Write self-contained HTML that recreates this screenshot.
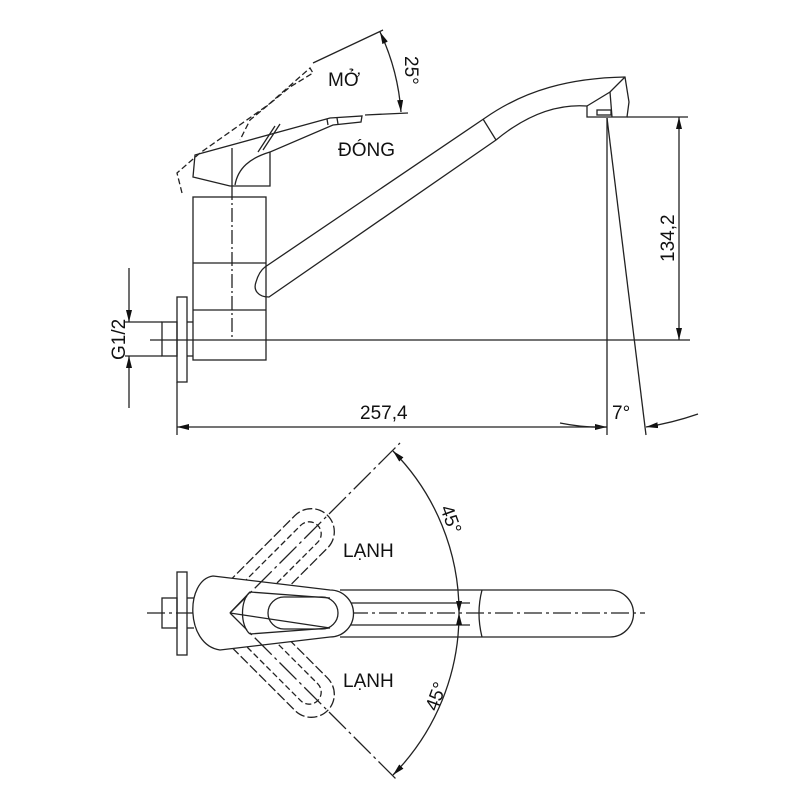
<!DOCTYPE html>
<html><head><style>html,body{margin:0;padding:0;background:#fff}svg{display:block}text{font-family:"Liberation Sans",sans-serif;fill:#111}</style></head>
<body>
<svg width="800" height="800" viewBox="0 0 800 800" xmlns="http://www.w3.org/2000/svg" fill="none" stroke="#222" stroke-width="1.3">
<defs>
<marker id="a" markerWidth="12" markerHeight="6" refX="12" refY="3" orient="auto-start-reverse" markerUnits="userSpaceOnUse"><path d="M0,0 L12,3 L0,6 Z" fill="#111" stroke="none"/></marker>
</defs>
<!-- SIDE VIEW -->
<line x1="150" y1="340" x2="690" y2="340"/>
<rect x="193" y="197" width="73" height="163"/>
<line x1="193" y1="263" x2="266" y2="263"/>
<line x1="193" y1="310" x2="266" y2="310"/>
<line x1="232" y1="186" x2="232" y2="340" stroke-dasharray="14,3,2,3"/>
<rect x="177" y="297" width="10" height="85"/>
<rect x="162" y="322" width="15" height="34"/>
<line x1="187" y1="322" x2="193" y2="322"/><line x1="187" y1="356" x2="193" y2="356"/>
<!-- G1/2 -->
<line x1="125" y1="322" x2="162" y2="322"/><line x1="125" y1="356" x2="162" y2="356"/>
<line x1="129" y1="268" x2="129" y2="322" marker-end="url(#a)"/>
<line x1="129" y1="408" x2="129" y2="356" marker-end="url(#a)"/>
<text x="0" y="0" font-size="19" stroke="none" transform="translate(125,360) rotate(-90)">G1/2</text>
<!-- 257,4 -->
<line x1="177" y1="382" x2="177" y2="435"/>
<line x1="177" y1="427" x2="607" y2="427" marker-start="url(#a)" marker-end="url(#a)"/>
<text x="360" y="419" font-size="19" stroke="none">257,4</text>
<line x1="607" y1="118" x2="607" y2="435"/>
<line x1="607" y1="118" x2="646" y2="435"/>
<path d="M560,423 Q585,428 607,427" />
<path d="M698,414 Q672,423 646,427" marker-end="url(#a)"/>
<text x="612" y="419" font-size="19" stroke="none">7°</text>
<!-- 134,2 -->
<line x1="627" y1="117" x2="688" y2="117"/>
<line x1="679" y1="117" x2="679" y2="340" marker-start="url(#a)" marker-end="url(#a)"/>
<text x="0" y="0" font-size="19" stroke="none" transform="translate(674,262) rotate(-90)">134,2</text>
<!-- spout -->
<path d="M265,267 L485,118 C525,90 570,78 625,77 L629,102 L627,117 L587,117 L587,106 C560,104 530,112 496,140 L269,297 C258,297 253,290 256,282 C258,275 261,270 265,267 Z"/>
<line x1="483" y1="119" x2="496" y2="140"/>
<path d="M587,106 L610,92 L625,77"/>
<line x1="610" y1="92" x2="612" y2="117"/>
<rect x="597" y="110" width="14" height="5"/>
<!-- handle closed -->
<path d="M195,155 L330,118 L362,116 L361,122 L333,125 L270,152 L270,186 L230,186 L193,177 Z"/>
<line x1="232" y1="148" x2="232" y2="186"/>
<path d="M235,185 C238,168 250,158 270,152"/>
<path d="M258,152 L275,126 M263,150 L280,124"/>
<path d="M327,119 L328,125 M337,118 L338,124"/>
<!-- handle open dashed -->
<path d="M182,193 L177,173 L200,153 L268,105 L310,68 L313,73 L290,87 L250,120 L240,140" stroke-dasharray="6,3"/>
<!-- 25° -->
<line x1="313" y1="63" x2="383" y2="30"/>
<line x1="365" y1="115" x2="408" y2="113"/>
<path d="M380,32 Q398,70 401,112" marker-start="url(#a)" marker-end="url(#a)"/>
<text x="0" y="0" font-size="19" stroke="none" transform="translate(405,56) rotate(90)">25°</text>
<text x="328" y="86" font-size="19" stroke="none">MỞ</text>
<text x="338" y="156" font-size="19" stroke="none">ĐÓNG</text>
<!-- TOP VIEW -->
<line x1="147" y1="613" x2="645" y2="613" stroke-dasharray="18,4,3,4"/>
<rect x="177" y="572" width="10" height="83"/>
<rect x="162" y="598" width="15" height="30"/>
<line x1="187" y1="598" x2="194" y2="598"/><line x1="187" y1="628" x2="194" y2="628"/>
<!-- spout top -->
<path d="M340,590 L610,590 A23,23 0 0 1 610,637 L340,637"/>
<path d="M482,590 Q476,613 482,637"/>
<line x1="345" y1="603" x2="470" y2="603"/><line x1="345" y1="625" x2="470" y2="625"/>
<!-- dashed levers -->
<g transform="translate(230,613) rotate(-45)">
<path d="M20,-23 L115,-23 A23,23 0 0 1 115,23 L20,23" stroke-dasharray="10,3"/>
<path d="M30,-12 L112,-12 A12,12 0 0 1 112,12 L30,12" stroke-dasharray="6,3"/>
</g>
<g transform="translate(230,613) rotate(45)">
<path d="M20,-23 L115,-23 A23,23 0 0 1 115,23 L20,23" stroke-dasharray="10,3"/>
<path d="M30,-12 L112,-12 A12,12 0 0 1 112,12 L30,12" stroke-dasharray="6,3"/>
</g>
<!-- handle top -->
<path d="M213,576 L330,590 A23,23 0 0 1 330,637 L220,650 C185,645 185,580 213,576 Z" fill="#fff"/>
<path d="M230,613 L250,592 L330,598 M250,634 L330,628 L230,613"/>
<rect x="268" y="597" width="70" height="32" rx="16"/>
<path d="M250,592 C240,600 240,626 250,634"/>
<!-- 45° dims -->
<line x1="230" y1="613" x2="400" y2="443" stroke-dasharray="24,4,3,4"/>
<line x1="230" y1="613" x2="396" y2="779" stroke-dasharray="24,4,3,4"/>
<path d="M393,451 A229,229 0 0 1 459,613" marker-start="url(#a)" marker-end="url(#a)"/>
<path d="M459,613 A229,229 0 0 1 393,775" marker-start="url(#a)" marker-end="url(#a)"/>
<text x="0" y="0" font-size="19" stroke="none" transform="translate(440,508) rotate(70)">45°</text>
<text x="0" y="0" font-size="19" stroke="none" transform="translate(437,712) rotate(-70)">45°</text>
<text x="343" y="557" font-size="19" stroke="none">LẠNH</text>
<text x="343" y="687" font-size="19" stroke="none">LẠNH</text>
</svg>
</body></html>
